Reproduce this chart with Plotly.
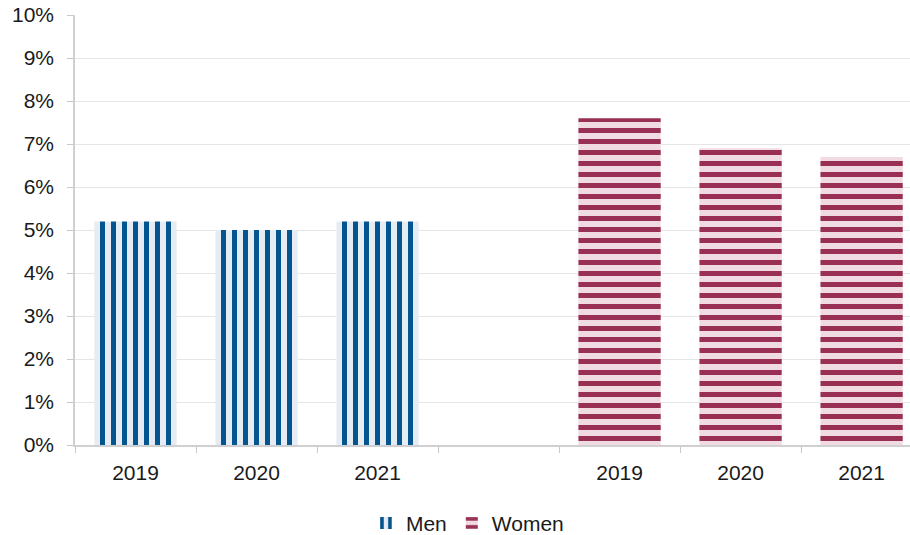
import plotly.graph_objects as go

# Share of each group, by year (percent)
years = ["2019", "2020", "2021"]
men_values = [5.2, 5.0, 5.2]
women_values = [7.6, 6.9, 6.7]
y_ticks = [0, 1, 2, 3, 4, 5, 6, 7, 8, 9, 10]

men_ids = ["m" + y for y in years]
women_ids = ["w" + y for y in years]
gap_id = "gap"
category_order = men_ids + [gap_id] + women_ids
tick_text = years + [""] + years

FONT = "Liberation Sans, Arial, Helvetica, sans-serif"

fig = go.Figure()
fig.add_trace(go.Bar(
    name="Men", x=men_ids, y=men_values,
    marker=dict(
        color="#e6ecf4",
        line=dict(width=0),
        pattern=dict(shape="|", fgcolor="#04558f", bgcolor="#e6ecf4",
                     size=11, solidity=0.45, fillmode="replace"),
    ),
))
fig.add_trace(go.Bar(
    name="Women", x=women_ids, y=women_values,
    marker=dict(
        color="#f1dbe3",
        line=dict(width=0),
        pattern=dict(shape="-", fgcolor="#9a2f55", bgcolor="#f1dbe3",
                     size=11, solidity=0.45, fillmode="replace"),
    ),
))

fig.update_layout(
    width=910, height=535,
    margin=dict(l=75, r=0, t=15, b=90, autoexpand=False),
    paper_bgcolor="white", plot_bgcolor="white",
    font=dict(family=FONT, size=21, color="#1a1a1a"),
    bargap=0.32,
    barmode="overlay",
    showlegend=True,
    legend=dict(orientation="h", x=0.47, xanchor="center",
                yref="container", y=0.022, yanchor="middle",
                font=dict(size=21), itemwidth=30, traceorder="normal"),
    xaxis=dict(
        type="category", categoryorder="array", categoryarray=category_order,
        tickmode="array", tickvals=category_order, ticktext=tick_text,
        tickson="boundaries", ticks="outside", ticklen=6, tickcolor="#c8c8c8",
        showline=True, linecolor="#d0d0d0", linewidth=1.5,
        showgrid=False, range=[-0.5, 6.4], fixedrange=True,
        ticklabelstandoff=8,
    ),
    yaxis=dict(
        range=[0, 10], tickmode="array", tickvals=y_ticks,
        ticktext=[f"{v}%" for v in y_ticks],
        ticks="outside", ticklen=6, tickcolor="#c8c8c8",
        showline=True, linecolor="#d0d0d0", linewidth=1.5,
        showgrid=True, gridcolor="#e6e6e6", gridwidth=1,
        zeroline=False, ticklabelstandoff=9,
    ),
)

fig.write_html("out.html")
